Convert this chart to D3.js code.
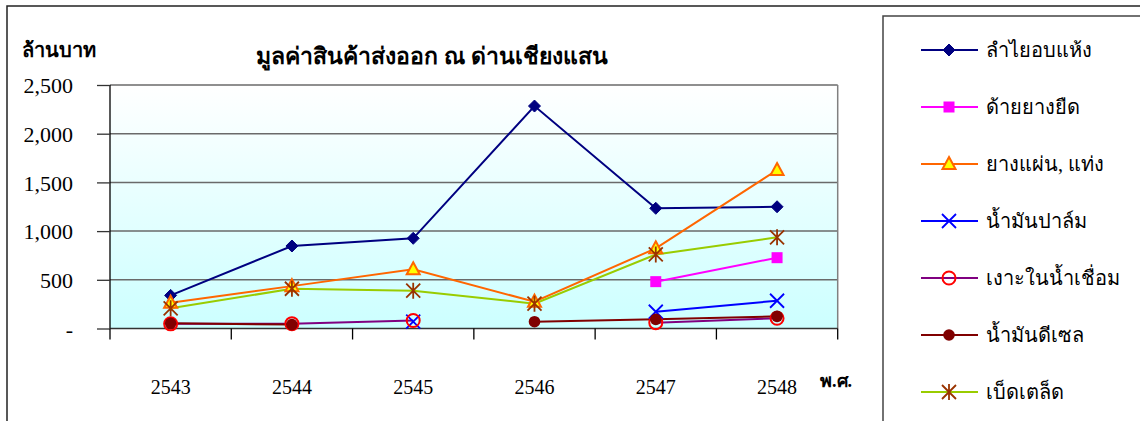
<!DOCTYPE html>
<html><head><meta charset="utf-8">
<script src="https://cdn.jsdelivr.net/npm/d3@7"></script>
<style>
body{margin:0;background:#fff;}
svg{display:block;font-family:"Liberation Serif","Times New Roman","DejaVu Serif",serif;}
.num{font-family:"Liberation Serif","Times New Roman",serif !important;}
</style></head>
<body><svg id="c" width="1140" height="421"></svg>
<script>
const years = ["2543","2544","2545","2546","2547","2548"];
const yTicks = [0,500,1000,1500,2000,2500];
const seriesNames = ["ลำไยอบแห้ง","ด้ายยางยืด","ยางแผ่น, แท่ง","น้ำมันปาล์ม","เงาะในน้ำเชื่อม","น้ำมันดีเซล","เบ็ดเตล็ด"];
const longan   = [340, 847, 926, 2284, 1234, 1250];
const elastic  = [null, null, null, null, 481, 727];
const rubber   = [265, 435, 608, 275, 823, 1627];
const palmOil  = [null, null, 70, null, 172, 285];
const rambutan = [48, 50, 82, null, 60, 105];
const diesel   = [53, 40, null, 70, 94, 125];
const misc     = [207, 408, 388, 255, 760, 936];
const title = "มูลค่าสินค้าส่งออก ณ ด่านเชียงแสน";
const yUnit = "ล้านบาท";
const xUnit = "พ.ศ.";

const svg = d3.select("#c");
const L = 110, R = 837.7, T = 85, B = 328.5;

svg.append("rect").attr("x",7).attr("y",6).attr("width",1200).attr("height",500)
  .attr("fill","none").attr("stroke","#222").attr("stroke-width",1.5);

const defs = svg.append("defs");
const grad = defs.append("linearGradient").attr("id","bg").attr("x1",0).attr("y1",0).attr("x2",0).attr("y2",1);
grad.append("stop").attr("offset","0%").attr("stop-color","#ffffff");
grad.append("stop").attr("offset","100%").attr("stop-color","#ccffff");

const x = d3.scaleBand().domain(years).range([L,R]);
const y = d3.scaleLinear().domain([0,2500]).range([B,T]);

svg.append("rect").attr("x",L).attr("y",T).attr("width",R-L).attr("height",B-T).attr("fill","url(#bg)");

svg.append("g").selectAll("line").data(yTicks.slice(1)).join("line")
  .attr("x1",L).attr("x2",R).attr("y1",d=>y(d)).attr("y2",d=>y(d))
  .attr("stroke","#6a6a6a").attr("stroke-width",1.5);
svg.append("line").attr("x1",R).attr("x2",R).attr("y1",T).attr("y2",B).attr("stroke","#808080").attr("stroke-width",1.5);

const yAxis = d3.axisLeft(y).tickValues(yTicks).tickSize(13).tickPadding(24)
  .tickFormat(d=> d===0 ? "-" : d3.format(",")(d));
const ga = svg.append("g").attr("transform",`translate(${L},0)`).call(yAxis)
  .attr("font-family",null).attr("font-size",null);
ga.select(".domain").attr("stroke","#000").attr("stroke-width",1.3).attr("d",`M0,${T}V${B}`);
ga.selectAll(".tick line").attr("stroke","#333").attr("stroke-width",1.3);
ga.selectAll(".tick text").attr("class","num").style("font-size","22px").style("fill","#000")
  .attr("dy","0.35em");

const xAxis = d3.axisBottom(x).tickSize(0).tickPadding(51);
const gx = svg.append("g").attr("transform",`translate(0,${B})`).call(xAxis)
  .attr("font-family",null).attr("font-size",null);
gx.select(".domain").attr("stroke","#333").attr("stroke-width",1.5).attr("d",`M${L},0H${R}`);
gx.selectAll(".tick text").attr("class","num").style("font-size","20px").style("fill","#000");
const bounds = years.map(d=>x(d)).concat([R]);
svg.append("g").selectAll("line").data(bounds).join("line")
  .attr("x1",d=>d).attr("x2",d=>d).attr("y1",B).attr("y2",B+11)
  .attr("stroke","#000").attr("stroke-width",1.3);

svg.append("text").attr("x",22).attr("y",57).style("font-size","20px").attr("font-weight","bold").text(yUnit);
svg.append("text").attr("x",432).attr("y",64).attr("text-anchor","middle").style("font-size","23px").attr("font-weight","bold").text(title);
svg.append("text").attr("x",820).attr("y",387).style("font-size","18px").attr("font-weight","bold").text(xUnit);

const cx = d=>x(d)+x.bandwidth()/2;

const series = [
  {name:seriesNames[0], vals:longan, line:"#000080", marker:"diamond", mfill:"#000080", mstroke:"#000080"},
  {name:seriesNames[1], vals:elastic, line:"#ff00ff", marker:"square", mfill:"#ff00ff", mstroke:"#ff00ff"},
  {name:seriesNames[2], vals:rubber, line:"#ff6600", marker:"triangle", mfill:"#ffff00", mstroke:"#ff6600"},
  {name:seriesNames[3], vals:palmOil, line:"#0000ff", marker:"x", mfill:"none", mstroke:"#0000ff"},
  {name:seriesNames[4], vals:rambutan, line:"#800080", marker:"ocircle", mfill:"none", mstroke:"#ff0000"},
  {name:seriesNames[5], vals:diesel, line:"#800000", marker:"circle", mfill:"#800000", mstroke:"#800000"},
  {name:seriesNames[6], vals:misc, line:"#99cc00", marker:"star", mfill:"none", mstroke:"#993300"}
];

function drawMarker(g, type, fill, stroke){
  switch(type){
    case "diamond": g.append("path").attr("d","M0,-6L6,0L0,6L-6,0Z").attr("fill",fill).attr("stroke",stroke); break;
    case "square": g.append("rect").attr("x",-5.5).attr("y",-5.5).attr("width",11).attr("height",11).attr("fill",fill); break;
    case "triangle": g.append("path").attr("d","M0,-7L6.5,5L-6.5,5Z").attr("fill",fill).attr("stroke",stroke).attr("stroke-width",2); break;
    case "x": g.append("path").attr("d","M-7,-7L7,7M-7,7L7,-7").attr("stroke",stroke).attr("stroke-width",1.8).attr("fill","none"); break;
    case "ocircle": g.append("circle").attr("r",6.5).attr("fill","none").attr("stroke",stroke).attr("stroke-width",2); break;
    case "circle": g.append("circle").attr("r",5.8).attr("fill",fill); break;
    case "star": g.append("path").attr("d","M-7,-7L7,7M-7,7L7,-7M0,-8V8").attr("stroke",stroke).attr("stroke-width",1.8).attr("fill","none"); break;
  }
}

const lineGen = d3.line().defined(d=>d.v!=null).x(d=>cx(d.k)).y(d=>y(d.v));
const drawOrder = [0,2,6,1,3,4,5];
drawOrder.forEach(i=>{
  const s = series[i];
  const pts = years.map((k,j)=>({k, v:s.vals[j]}));
  svg.append("path").datum(pts).attr("d",lineGen).attr("fill","none")
    .attr("stroke",s.line).attr("stroke-width",2);
});
drawOrder.forEach(i=>{
  const s = series[i];
  years.forEach((k,j)=>{
    const v = s.vals[j];
    if(v==null) return;
    const g = svg.append("g").attr("transform",`translate(${cx(k)},${y(v)})`);
    drawMarker(g, s.marker, s.mfill, s.mstroke);
  });
});

svg.append("rect").attr("x",883).attr("y",16).attr("width",400).attr("height",500)
  .attr("fill","#fff").attr("stroke","#444").attr("stroke-width",1.5);
const legY = d3.scalePoint().domain(seriesNames).range([50,392]);
series.forEach(s=>{
  const yy = legY(s.name);
  svg.append("line").attr("x1",921).attr("x2",978).attr("y1",yy).attr("y2",yy).attr("stroke",s.line).attr("stroke-width",2);
  const g = svg.append("g").attr("transform",`translate(949,${yy})`);
  drawMarker(g, s.marker, s.mfill, s.mstroke);
  svg.append("text").attr("x",986).attr("y",yy).attr("dy","0.35em").style("font-size","20px").text(s.name);
});
</script></body></html>
